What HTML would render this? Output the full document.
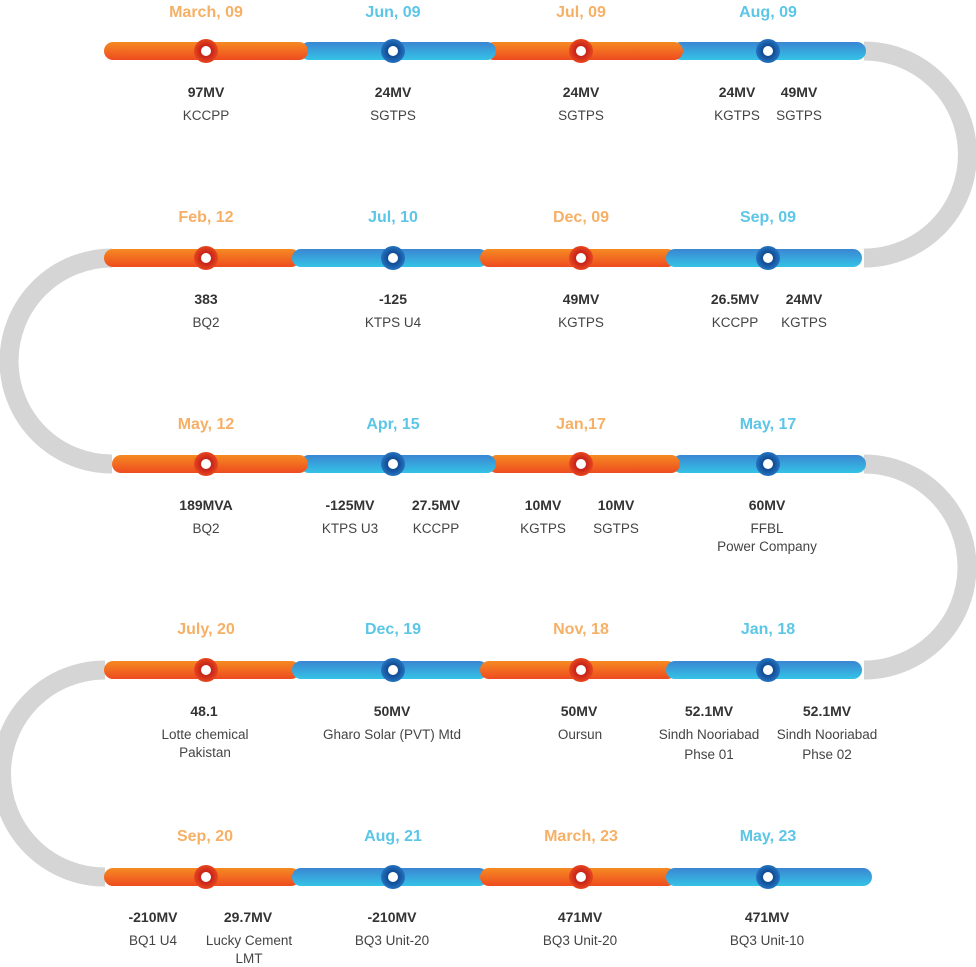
<!DOCTYPE html>
<html><head><meta charset="utf-8"><style>
html,body{margin:0;padding:0;background:#fff;}
svg{display:block;}
.d{font-family:"Liberation Sans",sans-serif;font-weight:bold;font-size:16px;text-anchor:middle;}
.o{fill:#f6b066;} .b{fill:#5cc6e7;}
.v{font-family:"Liberation Sans",sans-serif;font-weight:bold;font-size:14px;fill:#333;text-anchor:middle;}
.n{font-family:"Liberation Sans",sans-serif;font-size:13.5px;fill:#444;text-anchor:middle;}
</style></head><body>
<svg width="976" height="967" viewBox="0 0 976 967" xmlns="http://www.w3.org/2000/svg">
<defs>
<linearGradient id="go" x1="0" y1="0" x2="0" y2="1"><stop offset="0" stop-color="#f68a22"/><stop offset="1" stop-color="#ee4b20"/></linearGradient>
<linearGradient id="gb" x1="0" y1="0" x2="0" y2="1"><stop offset="0" stop-color="#3a86d2"/><stop offset="1" stop-color="#35c3e6"/></linearGradient>
<radialGradient id="no"><stop offset="0.5" stop-color="#c9261a"/><stop offset="1" stop-color="#e8471e"/></radialGradient>
<radialGradient id="nb"><stop offset="0.5" stop-color="#124f98"/><stop offset="1" stop-color="#2573c0"/></radialGradient>
</defs>
<g fill="none" stroke="#d5d5d5" stroke-width="19">
<path d="M864 51 A103.5 103.5 0 0 1 864 258"/>
<path d="M112 258 A103 103 0 0 0 112 464"/>
<path d="M864 464 A103 103 0 0 1 864 670"/>
<path d="M105 670 A103.5 103.5 0 0 0 105 877"/>
</g>
<g>
<!-- row1 -->
<rect x="672" y="42" width="194" height="18" rx="9" fill="url(#gb)"/>
<rect x="485" y="42" width="198" height="18" rx="9" fill="url(#go)"/>
<rect x="300" y="42" width="196" height="18" rx="9" fill="url(#gb)"/>
<rect x="104" y="42" width="204" height="18" rx="9" fill="url(#go)"/>
<!-- row2 -->
<rect x="104" y="249" width="196" height="18" rx="9" fill="url(#go)"/>
<rect x="292" y="249" width="196" height="18" rx="9" fill="url(#gb)"/>
<rect x="480" y="249" width="196" height="18" rx="9" fill="url(#go)"/>
<rect x="666" y="249" width="196" height="18" rx="9" fill="url(#gb)"/>
<!-- row3 -->
<rect x="672" y="455" width="194" height="18" rx="9" fill="url(#gb)"/>
<rect x="488" y="455" width="192" height="18" rx="9" fill="url(#go)"/>
<rect x="300" y="455" width="196" height="18" rx="9" fill="url(#gb)"/>
<rect x="112" y="455" width="196" height="18" rx="9" fill="url(#go)"/>
<!-- row4 -->
<rect x="104" y="661" width="196" height="18" rx="9" fill="url(#go)"/>
<rect x="292" y="661" width="196" height="18" rx="9" fill="url(#gb)"/>
<rect x="480" y="661" width="196" height="18" rx="9" fill="url(#go)"/>
<rect x="666" y="661" width="196" height="18" rx="9" fill="url(#gb)"/>
<!-- row5 -->
<rect x="104" y="868" width="196" height="18" rx="9" fill="url(#go)"/>
<rect x="292" y="868" width="196" height="18" rx="9" fill="url(#gb)"/>
<rect x="480" y="868" width="196" height="18" rx="9" fill="url(#go)"/>
<rect x="666" y="868" width="206" height="18" rx="9" fill="url(#gb)"/>
</g>
<g>
<g id="r1">
<circle cx="206" cy="51" r="12" fill="url(#no)"/><circle cx="206" cy="51" r="5" fill="#fff"/>
<circle cx="393" cy="51" r="12" fill="url(#nb)"/><circle cx="393" cy="51" r="5" fill="#fff"/>
<circle cx="581" cy="51" r="12" fill="url(#no)"/><circle cx="581" cy="51" r="5" fill="#fff"/>
<circle cx="768" cy="51" r="12" fill="url(#nb)"/><circle cx="768" cy="51" r="5" fill="#fff"/>
</g>
<use href="#r1" y="207"/>
<use href="#r1" y="413"/>
<use href="#r1" y="619"/>
<use href="#r1" y="826"/>
</g>
<text class="d o" x="206" y="17">March, 09</text>
<text class="d b" x="393" y="17">Jun, 09</text>
<text class="d o" x="581" y="17">Jul, 09</text>
<text class="d b" x="768" y="17">Aug, 09</text>
<text class="v" x="206" y="97">97MV</text><text class="n" x="206" y="120">KCCPP</text>
<text class="v" x="393" y="97">24MV</text><text class="n" x="393" y="120">SGTPS</text>
<text class="v" x="581" y="97">24MV</text><text class="n" x="581" y="120">SGTPS</text>
<text class="v" x="737" y="97">24MV</text><text class="n" x="737" y="120">KGTPS</text>
<text class="v" x="799" y="97">49MV</text><text class="n" x="799" y="120">SGTPS</text>
<text class="d o" x="206" y="222">Feb, 12</text>
<text class="d b" x="393" y="222">Jul, 10</text>
<text class="d o" x="581" y="222">Dec, 09</text>
<text class="d b" x="768" y="222">Sep, 09</text>
<text class="v" x="206" y="304">383</text><text class="n" x="206" y="327">BQ2</text>
<text class="v" x="393" y="304">-125</text><text class="n" x="393" y="327">KTPS U4</text>
<text class="v" x="581" y="304">49MV</text><text class="n" x="581" y="327">KGTPS</text>
<text class="v" x="735" y="304">26.5MV</text><text class="n" x="735" y="327">KCCPP</text>
<text class="v" x="804" y="304">24MV</text><text class="n" x="804" y="327">KGTPS</text>
<text class="d o" x="206" y="429">May, 12</text>
<text class="d b" x="393" y="429">Apr, 15</text>
<text class="d o" x="581" y="429">Jan,17</text>
<text class="d b" x="768" y="429">May, 17</text>
<text class="v" x="206" y="510">189MVA</text><text class="n" x="206" y="533">BQ2</text>
<text class="v" x="350" y="510">-125MV</text><text class="n" x="350" y="533">KTPS U3</text>
<text class="v" x="436" y="510">27.5MV</text><text class="n" x="436" y="533">KCCPP</text>
<text class="v" x="543" y="510">10MV</text><text class="n" x="543" y="533">KGTPS</text>
<text class="v" x="616" y="510">10MV</text><text class="n" x="616" y="533">SGTPS</text>
<text class="v" x="767" y="510">60MV</text><text class="n" x="767" y="533">FFBL</text><text class="n" x="767" y="551">Power Company</text>
<text class="d o" x="206" y="634">July, 20</text>
<text class="d b" x="393" y="634">Dec, 19</text>
<text class="d o" x="581" y="634">Nov, 18</text>
<text class="d b" x="768" y="634">Jan, 18</text>
<text class="v" x="204" y="716">48.1</text><text class="n" x="205" y="739">Lotte chemical</text><text class="n" x="205" y="757">Pakistan</text>
<text class="v" x="392" y="716">50MV</text><text class="n" x="392" y="739">Gharo Solar (PVT) Mtd</text>
<text class="v" x="579" y="716">50MV</text><text class="n" x="580" y="739">Oursun</text>
<text class="v" x="709" y="716">52.1MV</text><text class="n" x="709" y="739">Sindh Nooriabad</text><text class="n" x="709" y="759">Phse 01</text>
<text class="v" x="827" y="716">52.1MV</text><text class="n" x="827" y="739">Sindh Nooriabad</text><text class="n" x="827" y="759">Phse 02</text>
<text class="d o" x="205" y="841">Sep, 20</text>
<text class="d b" x="393" y="841">Aug, 21</text>
<text class="d o" x="581" y="841">March, 23</text>
<text class="d b" x="768" y="841">May, 23</text>
<text class="v" x="153" y="922">-210MV</text><text class="n" x="153" y="945">BQ1 U4</text>
<text class="v" x="248" y="922">29.7MV</text><text class="n" x="249" y="945">Lucky Cement</text><text class="n" x="249" y="963">LMT</text>
<text class="v" x="392" y="922">-210MV</text><text class="n" x="392" y="945">BQ3 Unit-20</text>
<text class="v" x="580" y="922">471MV</text><text class="n" x="580" y="945">BQ3 Unit-20</text>
<text class="v" x="767" y="922">471MV</text><text class="n" x="767" y="945">BQ3 Unit-10</text>
</svg>
</body></html>
